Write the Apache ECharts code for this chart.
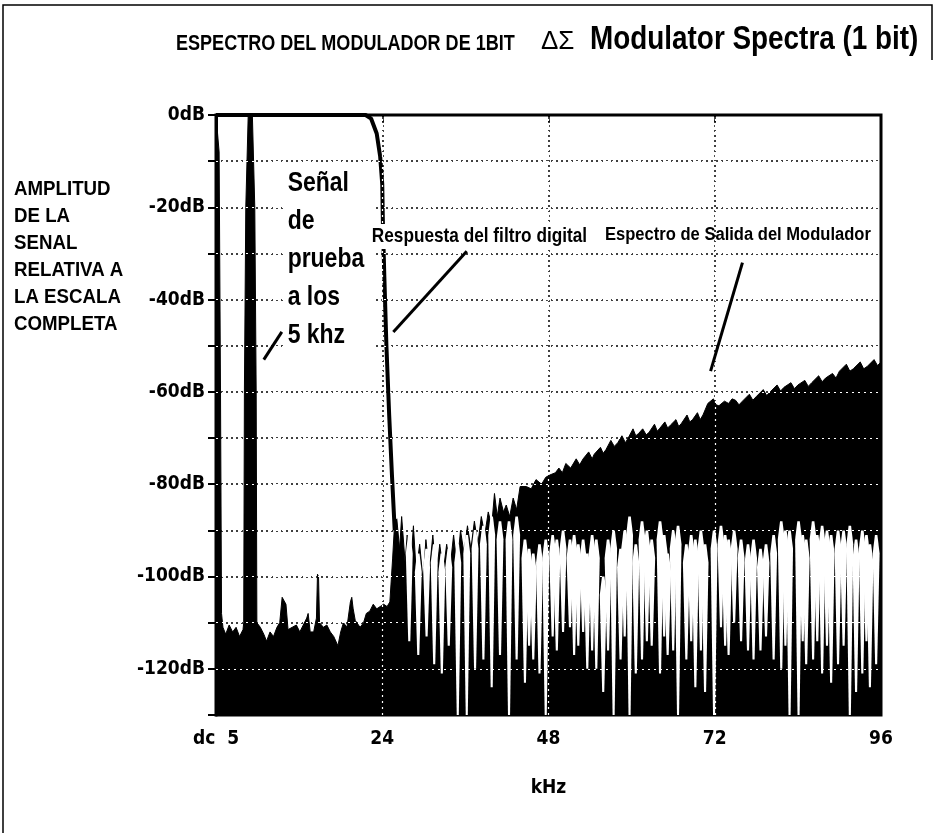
<!DOCTYPE html>
<html>
<head>
<meta charset="utf-8">
<script src="https://cdn.jsdelivr.net/npm/echarts@6/dist/echarts.min.js"></script>
<style>
  html, body { margin: 0; padding: 0; background: #fff; }
  #main { width: 936px; height: 833px; }
</style>
</head>
<body>
<div id="main"></div>
<script>
// ejes
var xTicks = [0, 24, 48, 72, 96];
var xTickLabels = ['dc  5', '24', '48', '72', '96'];
var yLabelLevels = [0, -20, -40, -60, -80, -100, -120];
var yGridLevels = [-10, -20, -30, -40, -50, -60, -70, -80, -90, -100, -110, -120];

// espectro de salida del modulador [kHz, dB] (borde superior)
var specDc = [[0, 0], [0.45, -8], [0.65, -60], [0.8, -108]];
var specLow = [[1.0, -111], [1.4, -112.5], [1.9, -110.5], [2.4, -112], [2.9, -111], [3.4, -113], [3.9, -111.5], [4.0, -110]];
var specTone = [[4.1, -60], [4.3, -20], [4.65, 0], [5.25, 0], [5.6, -20], [5.8, -60], [5.9, -110]];
var specFloor = [[6.4, -111], [6.9, -112.5], [7.3, -114], [7.8, -112], [8.3, -113], [8.8, -111], [9.2, -110], [9.55, -104.5],
  [9.8, -104.5], [10.1, -106], [10.4, -111.5], [11, -111], [11.6, -110.5], [12.1, -112], [12.6, -110.5], [13.1, -109],
  [13.3, -108], [13.6, -112], [14.1, -112], [14.5, -109], [14.65, -99.5], [14.8, -100], [14.95, -110], [15.5, -111],
  [16, -110.5], [16.5, -112], [17, -113], [17.6, -115], [18, -112], [18.4, -110], [18.9, -111], [19.4, -105.5],
  [19.6, -104.5], [19.8, -107], [20.1, -109.5], [20.8, -111], [21.3, -110], [21.7, -108], [22.2, -107.5], [22.7, -106],
  [23.2, -107], [23.7, -106.5], [24.2, -106], [24.7, -106.5], [25.1, -105.5], [25.5, -96]];
var specRise = [[25.8, -88], [26.1, -87.5], [26.5, -94], [26.8, -87], [27.3, -97], [27.6, -91], [28.0, -100], [28.5, -89],
  [28.9, -99], [29.4, -93], [29.9, -101], [30.3, -92], [30.8, -99], [31.3, -91], [31.8, -100], [32.3, -93], [32.8, -99],
  [33.3, -93], [33.8, -98], [34.3, -91], [34.8, -98], [35.3, -90], [35.8, -95], [36.3, -89], [36.8, -94], [37.3, -88],
  [37.8, -93], [38.3, -87], [38.8, -91], [39.3, -86], [39.8, -89], [40.2, -82], [40.6, -87], [41.0, -83], [41.5, -86],
  [41.9, -84.5], [42.4, -87], [42.9, -83], [43.4, -85.5], [43.9, -80.5], [44.8, -80.5], [45.5, -81], [46.2, -79], [47.0, -80],
  [47.6, -78.5], [48.2, -78]];
var specHigh = [[49.0, -77.5], [49.5, -76.5], [50.0, -77.5], [50.5, -75.5], [51.2, -76.5], [52, -74.5], [52.5, -75.8],
  [53, -74.5], [53.8, -73], [54.3, -74.5], [54.6, -73.5], [55.5, -72], [55.9, -73.3], [56.3, -72.5], [57, -70.5],
  [57.5, -71.8], [58, -71], [58.6, -69.5], [59.1, -71], [59.5, -70], [60.2, -68], [60.6, -69.5], [61, -69], [61.6, -68],
  [62.1, -69.3], [62.5, -68.8], [63.3, -67], [63.7, -68.5], [64, -68], [64.8, -66.5], [65.2, -67.8], [65.6, -67.2],
  [66.4, -66], [66.8, -67.5], [67.2, -66.8], [68, -65], [68.4, -66.5], [68.8, -66], [69.5, -64.5], [69.9, -66],
  [70.3, -65], [71, -62.5], [71.8, -61.5], [72.2, -62.8], [72.6, -63], [73.4, -62], [74, -62.5], [74.5, -61.5], [75, -61.8],
  [75.5, -62.8], [76, -62], [77, -60.5], [77.5, -61.8], [78, -61], [79, -59.5], [79.5, -60.8], [80, -60], [81, -58.5],
  [81.5, -59.8], [82, -59], [83, -58], [83.5, -59.3], [84, -58.5], [85, -57.5], [85.5, -58.8], [86, -58], [87, -56.5],
  [87.5, -57.8], [88, -57], [89, -56], [89.5, -57], [90, -55.5], [91, -54], [91.5, -55.5], [92, -55], [93, -53.5],
  [93.5, -55], [94, -54.5], [95, -53], [95.5, -54.3], [96, -53.5]];

// huecos blancos del espectro [kHz, dB arriba, dB abajo]
var notchesMid = [[27.9, -91, -114], [29.2, -95, -117], [30.4, -94, -113], [31.5, -93, -119], [32.6, -95, -121],
  [33.6, -94, -115], [34.9, -93, -130], [36.2, -91, -130], [37.4, -90, -120], [38.6, -89, -118], [39.8, -87, -124],
  [41.0, -88, -117], [42.3, -88, -130], [43.4, -87, -118], [44.6, -92, -123], [45.2, -94, -115], [45.8, -95, -118],
  [46.7, -93, -121], [47.6, -92, -130]];
var notchesHigh = [[48.6, -91, -113], [49.2, -92, -116], [50.1, -90, -112], [51.1, -92, -111], [51.7, -91, -117],
  [52.3, -93, -115], [53.0, -92, -112], [53.6, -95, -120], [54.3, -91, -116], [54.9, -92, -120], [55.9, -100, -125],
  [56.6, -92, -116], [57.4, -90, -130], [58.4, -94, -118], [59.0, -90, -113], [59.7, -87, -130], [60.6, -93, -121],
  [61.5, -88, -118], [62.2, -90, -114], [62.9, -92, -115], [64.1, -88, -121], [64.7, -91, -113], [65.2, -95, -117],
  [66.0, -90, -116], [66.7, -89, -130], [67.9, -93, -118], [68.6, -91, -114], [69.2, -92, -124], [70.0, -90, -116],
  [70.6, -93, -125], [71.9, -90, -130], [72.9, -89, -111], [73.5, -91, -115], [74.0, -92, -117], [74.8, -90, -110],
  [75.8, -92, -114], [76.8, -93, -116], [77.6, -92, -118], [78.6, -94, -116], [79.4, -93, -113], [80.5, -91, -118],
  [81.6, -88, -120], [82.2, -90, -115], [82.8, -90, -130], [84.1, -88, -130], [84.7, -91, -114], [85.2, -92, -119],
  [86.2, -88, -118], [86.8, -91, -114], [87.5, -89, -121], [88.2, -90, -115], [88.8, -91, -123], [89.8, -90, -119],
  [90.6, -90, -115], [91.5, -89, -130], [92.4, -92, -125], [93.3, -90, -121], [93.9, -91, -114], [94.4, -93, -124],
  [95.3, -91, -119]];

// respuesta del filtro digital [kHz, dB]
var filterResp = [[0, 0], [21.6, 0], [22.4, -0.8], [23.2, -4], [23.7, -9], [24.0, -15], [24.1, -24], [24.3, -35],
  [24.6, -50], [25.0, -65], [25.4, -78], [25.8, -90]];

// flechas de las notas [[kHz, dB], [kHz, dB]]
var arrowTone = [[9.5, -47], [6.9, -53]];
var arrowFilter = [[36.2, -29.5], [25.6, -47]];
var arrowSpec = [[76, -32], [71.4, -55.5]];

var COND = "'DejaVu Sans Condensed', 'DejaVu Sans', sans-serif";
var SANS = "'Liberation Sans', Arial, sans-serif";

var spectrum = [].concat(specDc, specLow, specTone, specFloor, specRise, specHigh);
var notches = [].concat(notchesMid, notchesHigh);

var myChart = echarts.init(document.getElementById('main'));

function arrowLine(a) {
  return [{ coord: a[0] }, { coord: a[1] }];
}

// texto estrecho (tipo Arial Narrow)
function narrowText(x, y, text, size, sx, extra) {
  var st = { text: text, font: 'bold ' + size + 'px ' + SANS, fill: '#000' };
  for (var k in extra || {}) st[k] = extra[k];
  return { type: 'text', x: x, y: y, scaleX: sx, z: 10, silent: true, style: st };
}

var option = {
  backgroundColor: '#fff',
  animation: false,
  grid: {
    left: 216,
    right: 55,
    top: 115,
    bottom: 118,
    show: true,
    borderColor: '#000',
    borderWidth: 3,
    backgroundColor: '#fff'
  },
  xAxis: {
    type: 'value',
    min: 0,
    max: 96,
    interval: 24,
    name: 'kHz',
    nameLocation: 'middle',
    nameGap: 64,
    nameTextStyle: { fontFamily: COND, fontWeight: 'bold', fontSize: 19, color: '#000' },
    axisLine: { lineStyle: { color: '#000', width: 1.5 } },
    axisTick: { show: true, length: 8, lineStyle: { color: '#000', width: 1.5 } },
    axisLabel: {
      margin: 15,
      fontFamily: COND,
      fontWeight: 'bold',
      fontSize: 19,
      color: '#000',
      formatter: function (v) {
        var i = xTicks.indexOf(v);
        return i >= 0 ? xTickLabels[i] : '';
      }
    },
    splitLine: { show: true, lineStyle: { color: '#000', width: 1.5, type: [2, 3] } }
  },
  yAxis: {
    type: 'value',
    min: -130,
    max: 0,
    interval: 10,
    axisLine: { show: true, lineStyle: { color: '#000', width: 3 } },
    axisTick: { show: true, length: 8, lineStyle: { color: '#000', width: 2 } },
    axisLabel: {
      margin: 11,
      fontFamily: COND,
      fontWeight: 'bold',
      fontSize: 19,
      color: '#000',
      formatter: function (v) {
        return yLabelLevels.indexOf(v) >= 0 ? v + 'dB' : '';
      }
    },
    splitLine: { show: true, lineStyle: { color: '#000', width: 1.5, type: [2, 3] } }
  },
  graphic: [
    {
      type: 'polyline',
      shape: { points: [[932, 60], [932, 5], [3, 5], [3, 833]] },
      style: { stroke: '#000', lineWidth: 1.5, fill: null },
      silent: true
    },
    narrowText(176, 55, 'ESPECTRO DEL MODULADOR DE 1BIT', 22, 0.82, { verticalAlign: 'bottom' }),
    {
      type: 'text', x: 541, y: 55, silent: true,
      style: { text: 'ΔΣ', font: '26px ' + SANS, fill: '#000', verticalAlign: 'bottom' }
    },
    narrowText(590, 57, 'Modulator Spectra (1 bit)', 34, 0.82, { verticalAlign: 'bottom' }),
    narrowText(14, 176, 'AMPLITUD\nDE LA\nSENAL\nRELATIVA A\nLA ESCALA\nCOMPLETA', 21, 0.89,
      { lineHeight: 27, verticalAlign: 'top' }),
    narrowText(286, 162, 'Señal\nde\nprueba\na los\n5 khz', 28, 0.82,
      { lineHeight: 38, verticalAlign: 'top', backgroundColor: '#fff', padding: [2, 14, 2, 2] }),
    narrowText(371, 224, 'Respuesta del filtro digital', 21, 0.82,
      { verticalAlign: 'top', backgroundColor: '#fff', padding: [2, 1, 2, 1] }),
    narrowText(605, 226, 'Espectro de Salida del Modulador', 18, 0.92, { verticalAlign: 'top' })
  ],
  series: [
    {
      name: 'Espectro de Salida del Modulador',
      type: 'line',
      data: spectrum,
      symbol: 'none',
      z: 2,
      lineStyle: { color: '#000', width: 1 },
      areaStyle: { color: '#000', opacity: 1, origin: 'start' }
    },
    {
      name: 'huecos',
      type: 'custom',
      data: notches,
      z: 3,
      clip: true,
      encode: { x: 0, y: [1, 2] },
      renderItem: function (params, api) {
        var f = api.value(0), top = api.value(1), bot = api.value(2);
        var pts = [
          api.coord([f - 0.18, top]),
          api.coord([f + 0.18, top]),
          api.coord([f + 0.5, top - 4]),
          api.coord([f + 0.15, bot]),
          api.coord([f - 0.15, bot]),
          api.coord([f - 0.5, top - 4])
        ];
        return { type: 'polygon', shape: { points: pts }, style: { fill: '#fff' } };
      }
    },
    {
      name: 'Respuesta del filtro digital',
      type: 'line',
      data: filterResp,
      symbol: 'none',
      z: 4,
      lineStyle: { color: '#000', width: 4 }
    },
    {
      // rejilla punteada blanca sobre las zonas negras
      name: 'rejilla',
      type: 'line',
      data: [],
      z: 5,
      markLine: {
        silent: true,
        symbol: 'none',
        label: { show: false },
        lineStyle: { color: '#fff', width: 1.2, type: [2, 4] },
        data: yGridLevels.map(function (v) { return { yAxis: v }; })
          .concat(xTicks.slice(1, 4).map(function (v) { return { xAxis: v }; }))
      }
    },
    {
      name: 'flechas',
      type: 'line',
      data: [],
      z: 6,
      markLine: {
        silent: true,
        symbol: 'none',
        label: { show: false },
        lineStyle: { color: '#000', width: 3, type: 'solid' },
        data: [arrowLine(arrowTone), arrowLine(arrowFilter), arrowLine(arrowSpec)]
      }
    }
  ]
};

myChart.setOption(option);
</script>
</body>
</html>
